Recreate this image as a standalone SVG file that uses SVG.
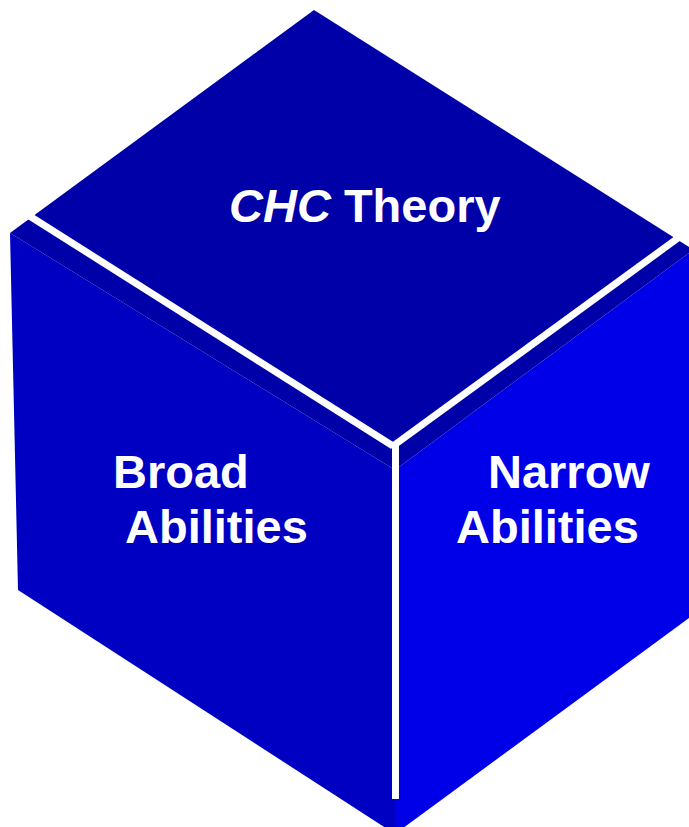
<svg xmlns="http://www.w3.org/2000/svg" width="689" height="827" viewBox="0 0 689 827">
<style>
.lbl{font-family:"Liberation Sans",Arial,sans-serif;font-weight:bold;font-size:47px;fill:#ffffff}
.edge{stroke:#ffffff;stroke-width:7;fill:none}
</style>
<rect width="689" height="827" fill="#ffffff"/>
<g id="left-face">
<polygon points="10,233 395,470 395,834 18,590" fill="#0000C2"/>
</g>
<g id="right-face">
<polygon points="395,470 689,253 689,618 395,834" fill="#0000E8"/>
</g>
<g id="top-face">
<polygon points="314,10 689,247 689,253 395,470 10,233" fill="#0000A8"/>
</g>
<g id="edges">
<line class="edge" x1="20" y1="210" x2="393" y2="446"/>
<line class="edge" x1="689" y1="230" x2="393" y2="446"/>
<line class="edge" x1="395.5" y1="443" x2="395.5" y2="799"/>
</g>
<g id="label-chc">
<text class="lbl" x="229" y="222"><tspan font-style="italic">CHC</tspan> Theory</text>
</g>
<g id="label-broad">
<text class="lbl" x="113" y="488">Broad</text>
<text class="lbl" x="125" y="543">Abilities</text>
</g>
<g id="label-narrow">
<text class="lbl" x="488" y="488">Narrow</text>
<text class="lbl" x="456" y="543">Abilities</text>
</g>
</svg>
